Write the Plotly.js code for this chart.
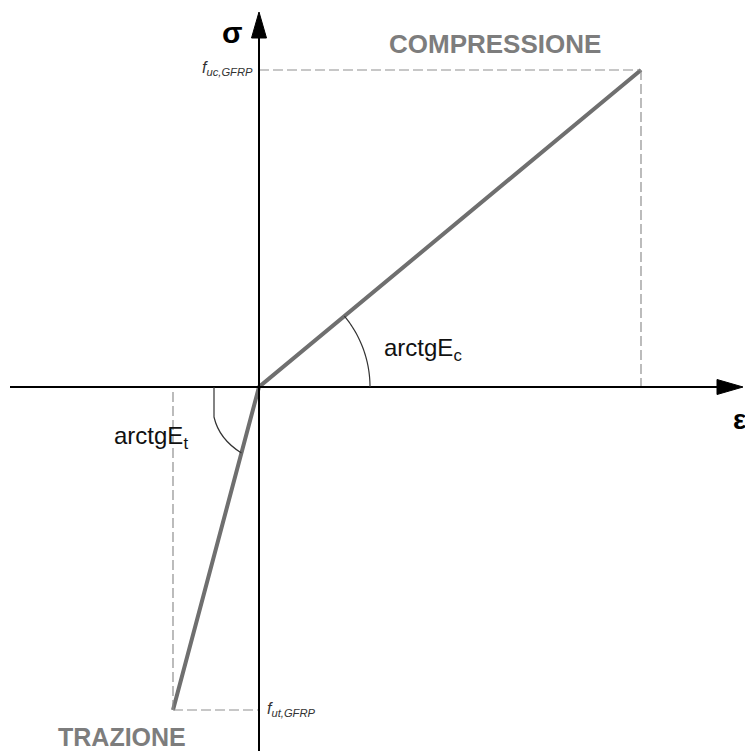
<!DOCTYPE html>
<html>
<head>
<meta charset="utf-8">
<script src="https://cdn.plot.ly/plotly-3.0.1.min.js"></script>
<style>
  html, body { margin: 0; padding: 0; background: #fff; }
  #chart { width: 745px; height: 751px; }
</style>
</head>
<body>
<div id="chart"></div>
<script>
// Bilinear stress-strain law for GFRP (schematic units)
const strain = [-0.86, 0, 3.82];   // ε: ultimate tension, origin, ultimate compression
const stress = [-3.23, 0, 3.17];   // σ: f_ut,GFRP, origin, f_uc,GFRP
const regionLabels = ['TRAZIONE', 'COMPRESSIONE'];
const slopeLabels = ['arctgE<sub>t</sub>', 'arctgE<sub>c</sub>'];
const strengthLabels = ['<i>f</i><sub><i>ut,GFRP</i></sub>', '<i>f</i><sub><i>uc,GFRP</i></sub>'];

const epsT = strain[0], epsC = strain[2];
const sigT = stress[0], sigC = stress[2];

const X_RANGE = [-2.59, 4.86];
const Y_RANGE = [-3.64, 3.87];

const dashStyle = { color: '#8f8f8f', width: 1.2, dash: '10px,4px' };
const axisStyle = { color: '#000', width: 2 };

// arc marking the compression slope angle
const rC = 1.11;
const angC = Math.atan2(sigC, epsC);
let arcC = '';
for (let i = 0; i <= 40; i++) {
  const a = angC * i / 40;
  arcC += (i === 0 ? 'M ' : ' L ') + (rC * Math.cos(a)).toFixed(4) + ',' + (rC * Math.sin(a)).toFixed(4);
}
// arc marking the tension slope angle (from the axis down to the branch)
const yEnd = -0.66;
const xEnd = epsT * yEnd / sigT;
const arcT = `M -0.45,0 L -0.45,-0.30 Q -0.40,-0.52 ${xEnd.toFixed(4)},${yEnd}`;

const shapes = [
  // strength reference lines
  { type: 'line', x0: 0, y0: sigC, x1: epsC, y1: sigC, line: dashStyle },
  { type: 'line', x0: epsC, y0: sigC, x1: epsC, y1: 0, line: dashStyle },
  { type: 'line', x0: epsT, y0: sigT, x1: epsT, y1: 0, line: dashStyle },
  { type: 'line', x0: epsT, y0: sigT, x1: 0, y1: sigT, line: dashStyle },
  // axes
  { type: 'line', x0: -2.49, y0: 0, x1: 4.62, y1: 0, line: axisStyle },
  { type: 'line', x0: 0, y0: Y_RANGE[0], x1: 0, y1: 3.55, line: axisStyle },
  { type: 'path', path: 'M 4.84,0 L 4.58,0.075 L 4.58,-0.075 Z', fillcolor: '#000', line: { color: '#000', width: 1 } },
  { type: 'path', path: 'M 0,3.75 L -0.075,3.49 L 0.075,3.49 Z', fillcolor: '#000', line: { color: '#000', width: 1 } },
  // angle arcs
  { type: 'path', path: arcC, line: { color: '#333', width: 1.2 } },
  { type: 'path', path: arcT, line: { color: '#333', width: 1.2 } }
];

const FAMILY = 'Liberation Sans, Arial, sans-serif';
const annotations = [
  { x: -0.27, y: 3.55, text: '<b>σ</b>', size: 30, color: '#000' },
  { x: 4.80, y: -0.32, text: '<b>ε</b>', size: 28, color: '#000' },
  { x: 2.36, y: 3.43, text: '<b>' + regionLabels[1] + '</b>', size: 26, color: '#7d7d7d' },
  { x: -1.37, y: -3.50, text: '<b>' + regionLabels[0] + '</b>', size: 25, color: '#7d7d7d' },
  { x: -0.04, y: sigC + 0.02, xanchor: 'right', text: strengthLabels[1], size: 16, color: '#333' },
  { x: 0.06, y: sigT + 0.01, xanchor: 'left', text: strengthLabels[0], size: 16, color: '#333' },
  { x: 1.23, y: 0.38, xanchor: 'left', text: slopeLabels[1], size: 24, color: '#111' },
  { x: -1.47, y: -0.50, xanchor: 'left', text: slopeLabels[0], size: 24, color: '#111' }
].map(a => ({
  xref: 'x', yref: 'y', x: a.x, y: a.y, text: a.text, showarrow: false,
  xanchor: a.xanchor || 'center', yanchor: 'middle',
  font: { family: FAMILY, size: a.size, color: a.color }
}));

const trace = {
  x: strain,
  y: stress,
  type: 'scatter',
  mode: 'lines',
  line: { color: '#6f6f6f', width: 4 },
  hoverinfo: 'skip'
};

const layout = {
  width: 745,
  height: 751,
  margin: { l: 0, r: 0, t: 0, b: 0 },
  paper_bgcolor: '#fff',
  plot_bgcolor: '#fff',
  showlegend: false,
  xaxis: { range: X_RANGE, visible: false, fixedrange: true },
  yaxis: { range: Y_RANGE, visible: false, fixedrange: true },
  shapes: shapes,
  annotations: annotations
};

Plotly.newPlot('chart', [trace], layout, { staticPlot: true, displayModeBar: false });
</script>
</body>
</html>
